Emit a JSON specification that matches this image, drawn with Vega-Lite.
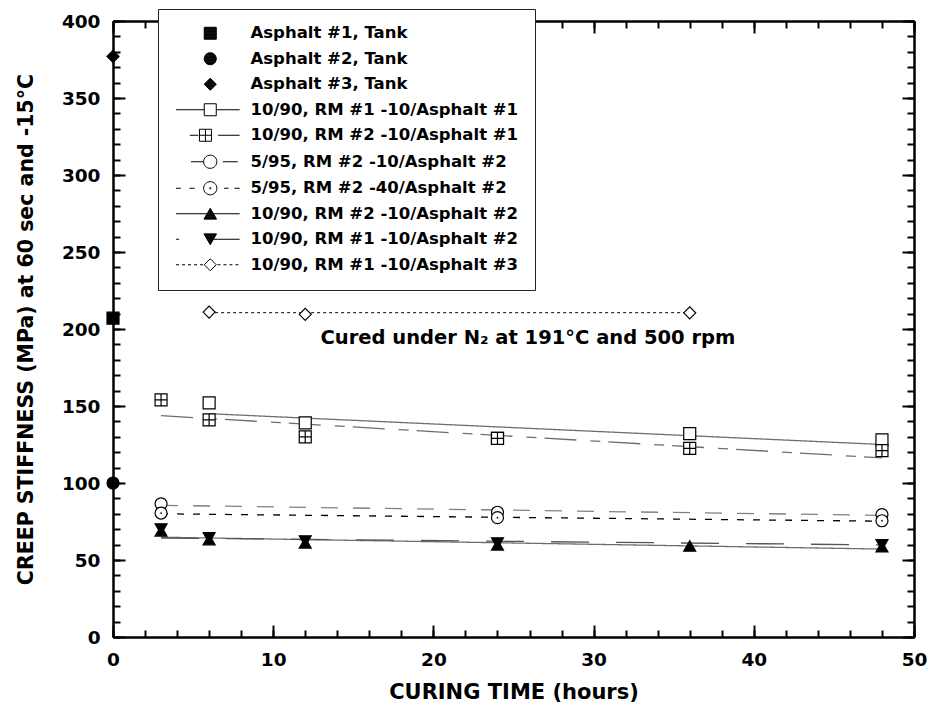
{
  "$schema": "https://vega.github.io/schema/vega-lite/v6.json",
  "width": 801,
  "height": 616,
  "autosize": {"type": "none"},
  "padding": {"left": 113, "top": 21, "right": 16, "bottom": 75},
  "background": "white",
  "config": {
    "view": {"stroke": null},
    "font": "DejaVu Sans",
    "axis": {
      "domainColor": "black",
      "domainWidth": 2.5,
      "tickColor": "black",
      "tickWidth": 2,
      "grid": false,
      "labelFont": "DejaVu Sans",
      "labelFontWeight": "bold",
      "labelFontSize": 18.5,
      "labelColor": "black",
      "titleFont": "DejaVu Sans",
      "titleFontWeight": "bold",
      "titleColor": "black"
    }
  },
  "datasets": {
    "pts": [
      {"series": "Asphalt #1, Tank", "t": 0, "s": 207},
      {"series": "Asphalt #2, Tank", "t": 0, "s": 100},
      {"series": "Asphalt #3, Tank", "t": 0, "s": 377},
      {"series": "10/90, RM #1 -10/Asphalt #1", "t": 6, "s": 152},
      {"series": "10/90, RM #1 -10/Asphalt #1", "t": 12, "s": 139},
      {"series": "10/90, RM #1 -10/Asphalt #1", "t": 24, "s": 129},
      {"series": "10/90, RM #1 -10/Asphalt #1", "t": 36, "s": 132},
      {"series": "10/90, RM #1 -10/Asphalt #1", "t": 48, "s": 128},
      {"series": "10/90, RM #2 -10/Asphalt #1", "t": 3, "s": 154},
      {"series": "10/90, RM #2 -10/Asphalt #1", "t": 6, "s": 141},
      {"series": "10/90, RM #2 -10/Asphalt #1", "t": 12, "s": 130},
      {"series": "10/90, RM #2 -10/Asphalt #1", "t": 24, "s": 129},
      {"series": "10/90, RM #2 -10/Asphalt #1", "t": 36, "s": 122.5},
      {"series": "10/90, RM #2 -10/Asphalt #1", "t": 48, "s": 121},
      {"series": "5/95, RM #2 -10/Asphalt #2", "t": 3, "s": 86.5},
      {"series": "5/95, RM #2 -10/Asphalt #2", "t": 24, "s": 81},
      {"series": "5/95, RM #2 -10/Asphalt #2", "t": 48, "s": 79.5},
      {"series": "5/95, RM #2 -40/Asphalt #2", "t": 3, "s": 80.5},
      {"series": "5/95, RM #2 -40/Asphalt #2", "t": 24, "s": 77.5},
      {"series": "5/95, RM #2 -40/Asphalt #2", "t": 48, "s": 75.5},
      {"series": "10/90, RM #2 -10/Asphalt #2", "t": 3, "s": 68.9},
      {"series": "10/90, RM #2 -10/Asphalt #2", "t": 6, "s": 63.2},
      {"series": "10/90, RM #2 -10/Asphalt #2", "t": 12, "s": 61.1},
      {"series": "10/90, RM #2 -10/Asphalt #2", "t": 24, "s": 59.8},
      {"series": "10/90, RM #2 -10/Asphalt #2", "t": 36, "s": 59.1},
      {"series": "10/90, RM #2 -10/Asphalt #2", "t": 48, "s": 58.6},
      {"series": "10/90, RM #1 -10/Asphalt #2", "t": 3, "s": 70.1},
      {"series": "10/90, RM #1 -10/Asphalt #2", "t": 6, "s": 64.4},
      {"series": "10/90, RM #1 -10/Asphalt #2", "t": 12, "s": 62.3},
      {"series": "10/90, RM #1 -10/Asphalt #2", "t": 24, "s": 61.0},
      {"series": "10/90, RM #1 -10/Asphalt #2", "t": 48, "s": 59.8},
      {"series": "10/90, RM #1 -10/Asphalt #3", "t": 6, "s": 211},
      {"series": "10/90, RM #1 -10/Asphalt #3", "t": 12, "s": 209.5},
      {"series": "10/90, RM #1 -10/Asphalt #3", "t": 36, "s": 210.5}
    ],
    "fits": [
      {"series": "10/90, RM #1 -10/Asphalt #1", "t": 6, "s": 145},
      {"series": "10/90, RM #1 -10/Asphalt #1", "t": 48, "s": 125},
      {"series": "10/90, RM #2 -10/Asphalt #1", "t": 3, "s": 143.7},
      {"series": "10/90, RM #2 -10/Asphalt #1", "t": 48, "s": 116.3},
      {"series": "5/95, RM #2 -10/Asphalt #2", "t": 3, "s": 85.5},
      {"series": "5/95, RM #2 -10/Asphalt #2", "t": 48, "s": 79},
      {"series": "5/95, RM #2 -40/Asphalt #2", "t": 3, "s": 80},
      {"series": "5/95, RM #2 -40/Asphalt #2", "t": 48, "s": 75.2},
      {"series": "10/90, RM #2 -10/Asphalt #2", "t": 3, "s": 64.8},
      {"series": "10/90, RM #2 -10/Asphalt #2", "t": 48, "s": 57.1},
      {"series": "10/90, RM #1 -10/Asphalt #2", "t": 3, "s": 64.3},
      {"series": "10/90, RM #1 -10/Asphalt #2", "t": 48, "s": 59.8},
      {"series": "10/90, RM #1 -10/Asphalt #3", "t": 6, "s": 210.6},
      {"series": "10/90, RM #1 -10/Asphalt #3", "t": 36, "s": 210.6}
    ],
    "note": [{"label": "Cured under N₂ at 191°C and 500 rpm"}]
  },
  "layer": [
    {
      "data": {"name": "fits"},
      "mark": {"type": "line", "strokeWidth": 1.3},
      "encoding": {
        "x": {
          "field": "t", "type": "quantitative",
          "scale": {"domain": [0, 50], "nice": false, "zero": false},
          "axis": {
            "orient": "bottom",
            "values": [0, 10, 20, 30, 40, 50],
            "labelOverlap": false,
            "labelFlush": false,
            "tickSize": -12,
            "labelPadding": 25,
            "title": "CURING TIME (hours)",
            "titleFontSize": 21,
            "titleX": 400.5,
            "titleY": 61,
            "titleBaseline": "alphabetic",
            "titleAlign": "center"
          }
        },
        "y": {
          "field": "s", "type": "quantitative",
          "scale": {"domain": [0, 400], "nice": false},
          "axis": {
            "orient": "left",
            "values": [0, 50, 100, 150, 200, 250, 300, 350, 400],
            "labelOverlap": false,
            "labelFlush": false,
            "tickSize": -12,
            "labelPadding": 25,
            "title": "CREEP STIFFNESS (MPa) at 60 sec and -15°C",
            "titleFontSize": 20.5,
            "titleX": -81,
            "titleY": 308,
            "titleAngle": -90,
            "titleBaseline": "alphabetic",
            "titleAlign": "center"
          }
        },
        "detail": {"field": "series", "type": "nominal"},
        "stroke": {
          "field": "series", "type": "nominal", "legend": null,
          "scale": {
            "domain": ["10/90, RM #1 -10/Asphalt #1", "10/90, RM #2 -10/Asphalt #1", "5/95, RM #2 -10/Asphalt #2", "5/95, RM #2 -40/Asphalt #2", "10/90, RM #2 -10/Asphalt #2", "10/90, RM #1 -10/Asphalt #2", "10/90, RM #1 -10/Asphalt #3"],
            "range": ["#6e6e6e", "#6e6e6e", "#808080", "#000000", "#6e6e6e", "#555555", "#333333"]
          }
        },
        "strokeDash": {
          "field": "series", "type": "nominal", "legend": null,
          "scale": {
            "domain": ["10/90, RM #1 -10/Asphalt #1", "10/90, RM #2 -10/Asphalt #1", "5/95, RM #2 -10/Asphalt #2", "5/95, RM #2 -40/Asphalt #2", "10/90, RM #2 -10/Asphalt #2", "10/90, RM #1 -10/Asphalt #2", "10/90, RM #1 -10/Asphalt #3"],
            "range": [[1, 0], [32, 14, 10, 8], [17, 15], [7, 9], [1, 0], [38, 27], [3, 3]]
          }
        }
      }
    },
    {
      "data": {"name": "pts"},
      "mark": {"type": "point", "filled": false, "stroke": "black", "strokeWidth": 1.2, "size": 144, "opacity": 1},
      "encoding": {
        "x": {
          "field": "t", "type": "quantitative",
          "axis": {
            "orient": "top",
            "values": [0, 10, 20, 30, 40, 50],
            "labels": false,
            "tickSize": -12,
            "title": null
          }
        },
        "y": {
          "field": "s", "type": "quantitative",
          "axis": {
            "orient": "right",
            "values": [0, 50, 100, 150, 200, 250, 300, 350, 400],
            "labels": false,
            "tickSize": -12,
            "title": null
          }
        },
        "shape": {
          "field": "series", "type": "nominal", "legend": null,
          "scale": {
            "domain": ["Asphalt #1, Tank", "Asphalt #2, Tank", "Asphalt #3, Tank", "10/90, RM #1 -10/Asphalt #1", "10/90, RM #2 -10/Asphalt #1", "5/95, RM #2 -10/Asphalt #2", "5/95, RM #2 -40/Asphalt #2", "10/90, RM #2 -10/Asphalt #2", "10/90, RM #1 -10/Asphalt #2", "10/90, RM #1 -10/Asphalt #3"],
            "range": ["square", "circle", "diamond", "square", "M-1,-1H1V1H-1Z M0,-1V1 M-1,0H1", "circle", "circle", "triangle-up", "triangle-down", "diamond"]
          }
        },
        "fill": {
          "field": "series", "type": "nominal", "legend": null,
          "scale": {
            "domain": ["Asphalt #1, Tank", "Asphalt #2, Tank", "Asphalt #3, Tank", "10/90, RM #1 -10/Asphalt #1", "10/90, RM #2 -10/Asphalt #1", "5/95, RM #2 -10/Asphalt #2", "5/95, RM #2 -40/Asphalt #2", "10/90, RM #2 -10/Asphalt #2", "10/90, RM #1 -10/Asphalt #2", "10/90, RM #1 -10/Asphalt #3"],
            "range": ["black", "black", "black", "white", "white", "white", "white", "black", "black", "white"]
          }
        }
      }
    },
    {
      "data": {"name": "pts"},
      "transform": [{"filter": "datum.series === '5/95, RM #2 -40/Asphalt #2'"}],
      "mark": {"type": "point", "filled": true, "color": "black", "size": 3, "opacity": 1},
      "encoding": {
        "x": {
          "field": "t", "type": "quantitative",
          "axis": {
            "orient": "bottom",
            "values": [0,2,4,6,8,10,12,14,16,18,20,22,24,26,28,30,32,34,36,38,40,42,44,46,48,50],
            "labels": false, "domain": false, "tickSize": -7, "title": null
          }
        },
        "y": {
          "field": "s", "type": "quantitative",
          "axis": {
            "orient": "left",
            "values": [0,10,20,30,40,50,60,70,80,90,100,110,120,130,140,150,160,170,180,190,200,210,220,230,240,250,260,270,280,290,300,310,320,330,340,350,360,370,380,390,400],
            "labels": false, "domain": false, "tickSize": -7, "title": null
          }
        }
      }
    },
    {
      "data": {"name": "pts"},
      "mark": {"type": "point", "filled": false, "stroke": "black", "size": 144, "opacity": 0},
      "encoding": {
        "x": {
          "field": "t", "type": "quantitative",
          "axis": {
            "orient": "top",
            "values": [0,2,4,6,8,10,12,14,16,18,20,22,24,26,28,30,32,34,36,38,40,42,44,46,48,50],
            "labels": false, "domain": false, "tickSize": -7, "title": null
          }
        },
        "y": {
          "field": "s", "type": "quantitative",
          "axis": {
            "orient": "right",
            "values": [0,10,20,30,40,50,60,70,80,90,100,110,120,130,140,150,160,170,180,190,200,210,220,230,240,250,260,270,280,290,300,310,320,330,340,350,360,370,380,390,400],
            "labels": false, "domain": false, "tickSize": -7, "title": null
          }
        },
        "shape": {
          "field": "series", "type": "nominal",
          "scale": {
            "domain": ["Asphalt #1, Tank", "Asphalt #2, Tank", "Asphalt #3, Tank", "10/90, RM #1 -10/Asphalt #1", "10/90, RM #2 -10/Asphalt #1", "5/95, RM #2 -10/Asphalt #2", "5/95, RM #2 -40/Asphalt #2", "10/90, RM #2 -10/Asphalt #2", "10/90, RM #1 -10/Asphalt #2", "10/90, RM #1 -10/Asphalt #3"],
            "range": [
              "M-1,-1H1V1H-1ZM-1,-0.9H1M-1,-0.8H1M-1,-0.7H1M-1,-0.6H1M-1,-0.5H1M-1,-0.4H1M-1,-0.3H1M-1,-0.2H1M-1,-0.1H1M-1,0H1M-1,0.1H1M-1,0.2H1M-1,0.3H1M-1,0.4H1M-1,0.5H1M-1,0.6H1M-1,0.7H1M-1,0.8H1M-1,0.9H1",
              "M-1,0A1,1,0,1,1,1,0A1,1,0,1,1,-1,0ZM-0.44,-0.9H0.44M-0.6,-0.8H0.6M-0.71,-0.7H0.71M-0.8,-0.6H0.8M-0.87,-0.5H0.87M-0.92,-0.4H0.92M-0.95,-0.3H0.95M-0.98,-0.2H0.98M-0.99,-0.1H0.99M-1,0H1M-0.99,0.1H0.99M-0.98,0.2H0.98M-0.95,0.3H0.95M-0.92,0.4H0.92M-0.87,0.5H0.87M-0.8,0.6H0.8M-0.71,0.7H0.71M-0.6,0.8H0.6M-0.44,0.9H0.44",
              "M0,-1L1,0L0,1L-1,0ZM-0.1,-0.9H0.1M-0.2,-0.8H0.2M-0.3,-0.7H0.3M-0.4,-0.6H0.4M-0.5,-0.5H0.5M-0.6,-0.4H0.6M-0.7,-0.3H0.7M-0.8,-0.2H0.8M-0.9,-0.1H0.9M-1,0H1M-0.9,0.1H0.9M-0.8,0.2H0.8M-0.7,0.3H0.7M-0.6,0.4H0.6M-0.5,0.5H0.5M-0.4,0.6H0.4M-0.3,0.7H0.3M-0.2,0.8H0.2M-0.1,0.9H0.1",
              "M-5.7,0H-1M1,0H4.9M-1,-1H1V1H-1Z",
              "M-3.4,0H-2M1.3,0H4.9M-1.8,-1H0.2V1H-1.8ZM-0.8,-1V1M-1.8,0H0.2",
              "M-3.2,0H-1.1M2.1,0H4.6M-1.1,0A1.1,1.1,0,1,1,1.1,0A1.1,1.1,0,1,1,-1.1,0Z",
              "M-5.7,0H-4.9M-3.45,0H-2.6M2.3,0H3.05M4.05,0H4.9M-1.1,0A1.1,1.1,0,1,1,1.1,0A1.1,1.1,0,1,1,-1.1,0ZM-0.12,0A0.12,0.12,0,1,1,0.12,0A0.12,0.12,0,1,1,-0.12,0Z",
              "M-5.7,0H4.9M0,-0.9L1.05,0.9L-1.05,0.9ZM-0.06,-0.8H0.06M-0.12,-0.7H0.12M-0.18,-0.6H0.18M-0.23,-0.5H0.23M-0.29,-0.4H0.29M-0.35,-0.3H0.35M-0.41,-0.2H0.41M-0.47,-0.1H0.47M-0.58,0.1H0.58M-0.64,0.2H0.64M-0.7,0.3H0.7M-0.76,0.4H0.76M-0.82,0.5H0.82M-0.88,0.6H0.88M-0.93,0.7H0.93M-0.99,0.8H0.99",
              "M-5.7,0H-5.2M0,0H4.9M0,0.9L1.05,-0.9L-1.05,-0.9ZM-0.06,0.8H0.06M-0.12,0.7H0.12M-0.18,0.6H0.18M-0.23,0.5H0.23M-0.29,0.4H0.29M-0.35,0.3H0.35M-0.41,0.2H0.41M-0.47,0.1H0.47M-0.53,0H0.53M-0.58,-0.1H0.58M-0.64,-0.2H0.64M-0.7,-0.3H0.7M-0.76,-0.4H0.76M-0.82,-0.5H0.82M-0.88,-0.6H0.88M-0.93,-0.7H0.93M-0.99,-0.8H0.99",
              "M-5.7,0H-5.2M-4.7,0H-4.2M-3.7,0H-3.2M-2.7,0H-2.2M-1.7,0H-1.2M1.2,0H1.7M2.2,0H2.7M3.2,0H3.7M4.2,0H4.7M0,-1L1,0L0,1L-1,0Z"
            ]
          },
          "legend": {
            "title": null,
            "orient": "none",
            "legendX": 45,
            "legendY": -12,
            "direction": "vertical",
            "labelFont": "DejaVu Sans",
            "labelFontSize": 16.5,
            "labelFontWeight": "bold",
            "labelColor": "black",
            "labelLimit": 500,
            "symbolSize": 144,
            "symbolStrokeWidth": 1,
            "symbolStrokeColor": "black",
            "symbolFillColor": "transparent",
            "symbolOpacity": 1,
            "padding": 16,
            "rowPadding": 8.5,
            "symbolOffset": 28,
            "labelOffset": 32,
            "fillColor": "white",
            "strokeColor": "#222222",
            "cornerRadius": 0
          }
        }
      }
    },
    {
      "data": {"name": "note"},
      "mark": {"type": "text", "font": "DejaVu Sans", "fontWeight": "bold", "fontSize": 19.5, "align": "center", "baseline": "middle", "color": "black"},
      "encoding": {
        "x": {"datum": 25.9, "type": "quantitative", "axis": null},
        "y": {"datum": 194, "type": "quantitative", "axis": null},
        "text": {"field": "label", "type": "nominal"}
      }
    }
  ],
  "resolve": {"scale": {"shape": "independent"}, "axis": {"x": "independent", "y": "independent"}}
}
